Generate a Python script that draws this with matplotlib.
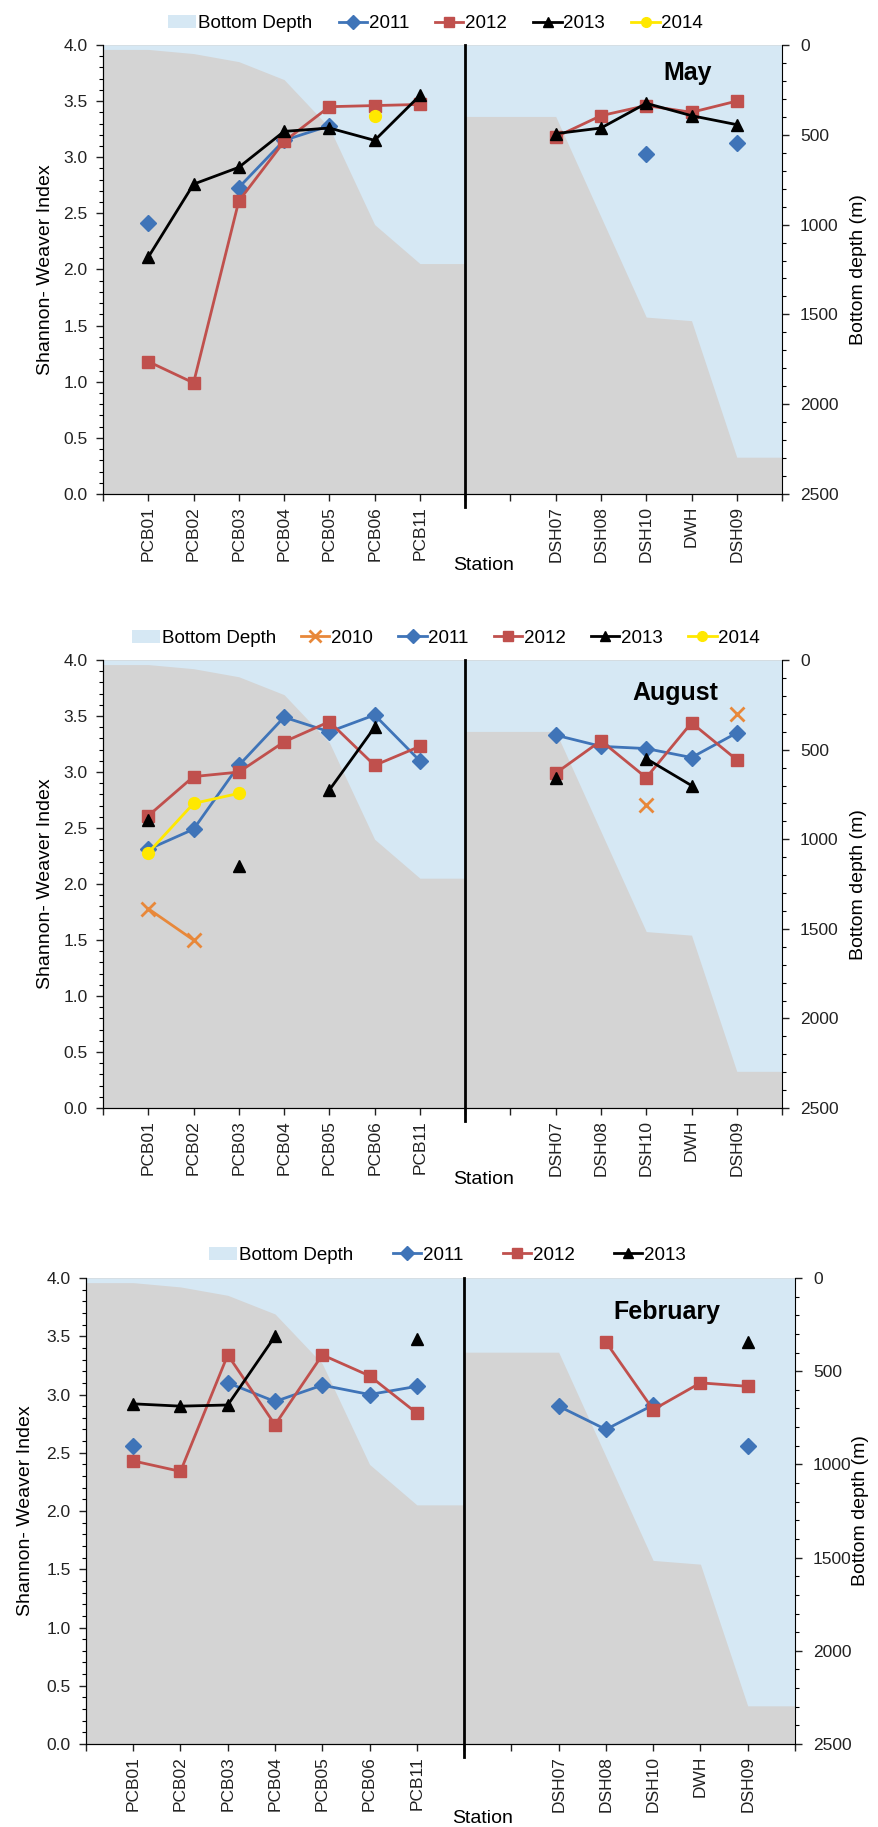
import numpy as np
import matplotlib
matplotlib.use("Agg")
import matplotlib.pyplot as plt
from matplotlib.patches import Patch
from matplotlib.lines import Line2D
import matplotlib.transforms as mtransforms

plt.rcParams['font.family'] = ['Liberation Sans', 'DejaVu Sans']

nan = np.nan

# stations at x = 1..14 (8 and 9 are the gap between the two transects)
stations = ['PCB01', 'PCB02', 'PCB03', 'PCB04', 'PCB05', 'PCB06', 'PCB11', '', '',
            'DSH07', 'DSH08', 'DSH10', 'DWH', 'DSH09']

# bottom depth profile (m)
depth_x = [0, 1, 2, 3, 4, 5, 6, 7, 8, 8, 9, 10, 11, 12, 13, 14, 15]
depth_m = [25, 25, 48, 93, 193, 460, 1000, 1217, 1217, 398, 398, 398, 957, 1515, 1535, 2295, 2295]

# May
may_2011 = [2.41, nan, 2.73, 3.15, 3.28, nan, nan, nan, nan, nan, nan, 3.03, nan, 3.13]
may_2012 = [1.18, 0.99, 2.61, 3.14, 3.45, 3.46, 3.47, nan, nan, 3.18, 3.37, 3.46, 3.40, 3.50]
may_2013 = [2.11, 2.76, 2.91, 3.23, 3.26, 3.15, 3.55, nan, nan, 3.21, 3.26, 3.48, 3.37, 3.29]
may_2014 = [nan, nan, nan, nan, nan, 3.37, nan, nan, nan, nan, nan, nan, nan, nan]

# August
aug_2010 = [1.78, 1.50, nan, nan, nan, nan, nan, nan, nan, nan, nan, 2.71, nan, 3.52]
aug_2011 = [2.31, 2.49, 3.06, 3.49, 3.36, 3.51, 3.10, nan, nan, 3.33, 3.23, 3.21, 3.13, 3.35]
aug_2012 = [2.61, 2.96, 3.00, 3.27, 3.45, 3.06, 3.23, nan, nan, 2.99, 3.28, 2.95, 3.44, 3.11]
aug_2013 = [2.57, nan, 2.16, nan, 2.84, 3.40, nan, nan, nan, 2.95, nan, 3.12, 2.88, nan]
aug_2014 = [2.28, 2.72, 2.81, nan, nan, nan, nan, nan, nan, nan, nan, nan, nan, nan]

# February
feb_2011 = [2.56, nan, 3.10, 2.94, 3.08, 3.00, 3.07, nan, nan, 2.90, 2.70, 2.91, nan, 2.56]
feb_2012 = [2.43, 2.34, 3.34, 2.74, 3.34, 3.16, 2.84, nan, nan, nan, 3.45, 2.87, 3.10, 3.07]
feb_2013 = [2.92, 2.90, 2.91, 3.50, nan, nan, 3.48, nan, nan, nan, nan, nan, nan, 3.45]

styles = {
    '2010': dict(color='#e8883a', marker='x', ms=10, mew=2),
    '2011': dict(color='#3f74b8', marker='D', ms=8.5, mew=1),
    '2012': dict(color='#c0504d', marker='s', ms=9, mew=1),
    '2013': dict(color='black', marker='^', ms=9, mew=1),
    '2014': dict(color='#ffe800', marker='o', ms=8.5, mew=1),
}
gray = '#d4d4d4'
blue = '#d6e8f4'

x = np.arange(1, 15)


def panel(rect, series, month, month_xy, leg_xy, colsp, rlab_x):
    ax = fig.add_axes(rect)
    ax2 = ax.twinx()
    ax2.fill_between(depth_x, 0, depth_m, color=blue, lw=0)
    ax2.set_ylim(2500, 0)
    ax2.patch.set_visible(True)
    ax2.patch.set_facecolor(gray)
    ax.set_zorder(ax2.get_zorder() + 1)
    ax.patch.set_visible(False)

    handles = [Patch(facecolor=blue, edgecolor='none')]
    labels = ['Bottom Depth']
    for year, vals in series:
        st = styles[year]
        ax.plot(x, vals, color=st['color'], lw=2, marker=st['marker'],
                ms=st['ms'], mew=st['mew'], mec=st['color'], mfc=st['color'])
        handles.append(Line2D([], [], color=st['color'], lw=2, marker=st['marker'],
                              ms=st['ms'] - 1.5, mew=st['mew'], mfc=st['color']))
        labels.append(year)

    ax.set_xlim(0, 15)
    ax.set_ylim(0, 4)
    ax.set_yticks(np.arange(0, 4.01, 0.5))
    ax.set_yticklabels(['%.1f' % v for v in np.arange(0, 4.01, 0.5)])
    ax.set_yticks(np.arange(0, 4.01, 0.1), minor=True)
    ax.set_xticks(np.arange(16))
    ax.set_xticklabels([''] + stations + [''], rotation=90)
    ax2.set_yticks(np.arange(0, 2501, 500))
    ax2.set_yticks(np.arange(0, 2501, 100), minor=True)

    for a in (ax, ax2):
        a.spines['top'].set_visible(False)
        a.tick_params(which='major', length=5, width=1, labelsize=12.5, colors='#222222')
        a.tick_params(which='minor', length=3, width=0.8)
    ax.spines['right'].set_visible(False)
    ax.tick_params(axis='y', pad=6)
    ax2.tick_params(axis='y', pad=8)

    ax.axvline(8, ymin=-0.028, ymax=1, color='black', lw=2, clip_on=False)

    ax.text(-0.085, 0.5, 'Shannon- Weaver Index', transform=ax.transAxes, rotation=90,
            ha='center', va='center', fontsize=14)
    ax.text(rlab_x, 0.5, 'Bottom depth (m)', transform=ax.transAxes, rotation=90,
            ha='center', va='center', fontsize=14)
    trans = mtransforms.blended_transform_factory(ax.transData, ax.transAxes)
    ax.text(8.4, -0.16, 'Station', transform=trans, ha='center', va='center', fontsize=14)
    ax.text(month_xy[0], month_xy[1], month, ha='center', va='center',
            fontsize=18, fontweight='bold')

    ax.legend(handles, labels, loc='center', bbox_to_anchor=leg_xy, ncol=len(labels),
              frameon=False, fontsize=13.5, handlelength=1.5, handletextpad=0.1,
              columnspacing=colsp, borderaxespad=0)
    return ax


fig = plt.figure(figsize=(8.79, 18.27), dpi=100)

panel([0.1172, 0.7296, 0.7725, 0.2458],
      [('2011', may_2011), ('2012', may_2012), ('2013', may_2013), ('2014', may_2014)],
      'May', (12.92, 3.75), (0.49, 1.047), 1.4, 1.112)
panel([0.1172, 0.3935, 0.7725, 0.2452],
      [('2010', aug_2010), ('2011', aug_2011), ('2012', aug_2012), ('2013', aug_2013),
       ('2014', aug_2014)],
      'August', (12.65, 3.71), (0.505, 1.049), 1.35, 1.112)
panel([0.0978, 0.0454, 0.8066, 0.2551],
      [('2011', feb_2011), ('2012', feb_2012), ('2013', feb_2013)],
      'February', (12.3, 3.71), (0.51, 1.049), 2.1, 1.093)

fig.savefig('out.png', dpi=100)
